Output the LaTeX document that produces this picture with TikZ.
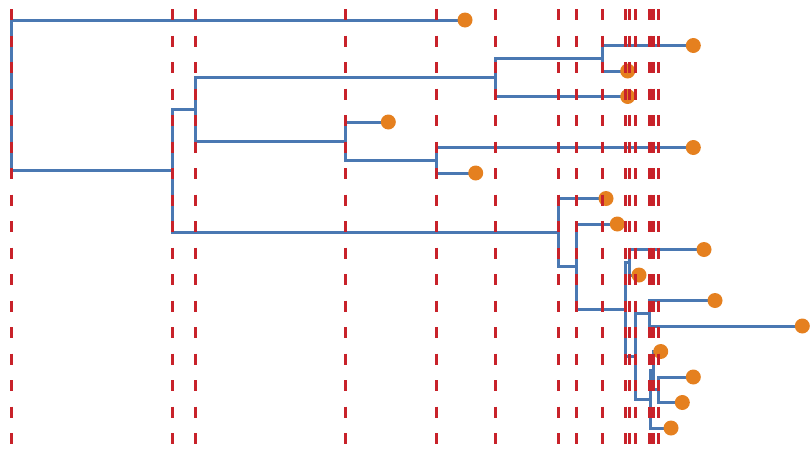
\documentclass[tikz,border=0pt]{standalone}
\definecolor{treeblue}{HTML}{4A78B2}
\definecolor{leaforange}{HTML}{E5801F}
\definecolor{guidered}{HTML}{C8222A}
\begin{document}
\begin{tikzpicture}[x=1pt,y=-1pt,
  edge/.style={draw=treeblue,line width=3pt},
  leaf/.style={circle,fill=leaforange,inner sep=0pt,minimum size=15pt},
  guide/.style={draw=guidered,line width=3pt,dash pattern=on 11pt off 15.5pt}]
\useasboundingbox (0,0) rectangle (811,453);
% internal nodes
\coordinate (R) at (11,95.4);
\coordinate (A) at (172,170.9);
\coordinate (B) at (195,109.2);
\coordinate (C) at (495,77.25);
\coordinate (E) at (602,58.25);
\coordinate (D) at (345,141.1);
\coordinate (F) at (436,160.25);
\coordinate (G) at (558,232.6);
\coordinate (H) at (576,266.6);
\coordinate (I) at (625,309.3);
\coordinate (J) at (629,262.25);
\coordinate (K) at (635,356.3);
\coordinate (L) at (649,313.25);
\coordinate (M) at (650.5,399.3);
\coordinate (N) at (653.5,370.6);
\coordinate (O) at (658,389.75);
% leaves
\coordinate (l1) at (465,20);
\coordinate (l2) at (693.3,45.5);
\coordinate (l3) at (627.7,71);
\coordinate (l4) at (627.7,96.5);
\coordinate (l5) at (388.3,122);
\coordinate (l6) at (693.3,147.5);
\coordinate (l7) at (475.7,173);
\coordinate (l8) at (606,198.5);
\coordinate (l9) at (617.3,224);
\coordinate (l10) at (704,249.5);
\coordinate (l11) at (639,275);
\coordinate (l12) at (715,300.5);
\coordinate (l13) at (802.3,326);
\coordinate (l14) at (660.7,351.5);
\coordinate (l15) at (693.3,377);
\coordinate (l16) at (682.3,402.5);
\coordinate (l17) at (671,428);
\coordinate (top) at (0,9);
\coordinate (bot) at (0,445);
% edges
\foreach \p/\c in {R/l1,R/A,A/B,A/G,B/C,B/D,C/E,C/l4,E/l2,E/l3,D/l5,D/F,F/l6,F/l7,
  G/l8,G/H,H/l9,H/I,I/J,I/K,J/l10,J/l11,K/L,K/M,L/l12,L/l13,M/N,M/l17,N/l14,N/O,O/l15,O/l16}
  {\draw[edge] (\p) |- (\c);}
% leaf markers
\foreach \i in {1,...,17} {\node[leaf] (n\i) at (l\i) {};}
% guides
\foreach \n in {R,A,B,C,E,D,F,G,H,I,J,K,L,M,N,O}
  {\draw[guide] (\n |- top) -- (\n |- bot);}
\end{tikzpicture}
\end{document}
